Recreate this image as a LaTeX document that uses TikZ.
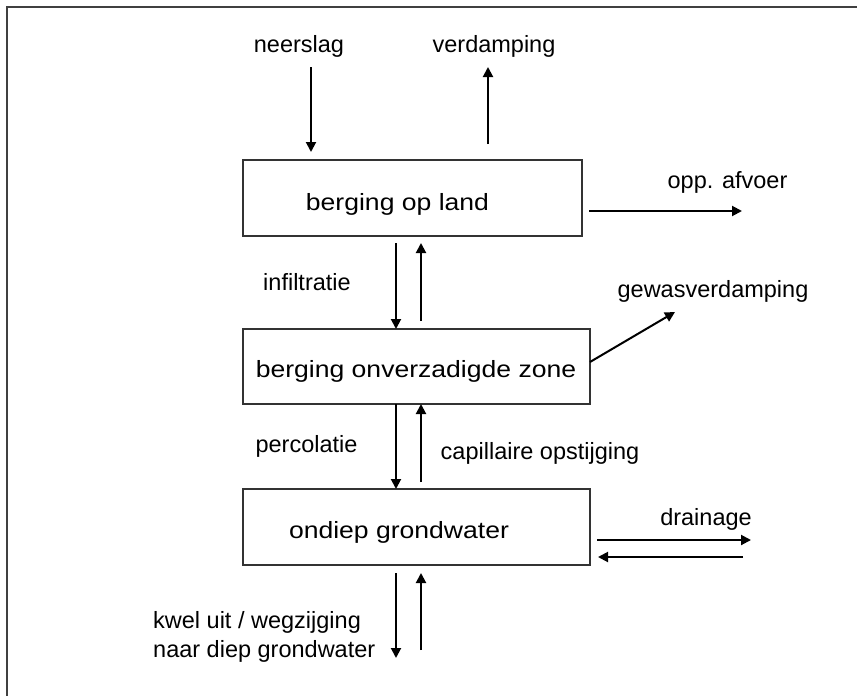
\documentclass[tikz,border=0pt]{standalone}
\usepackage{fontspec}
\setmainfont{Liberation Sans}
\newfontfamily\boxfont[FakeStretch=1.13]{Liberation Sans}
\usetikzlibrary{arrows.meta}

\begin{document}
\begin{tikzpicture}[x=1pt, y=-1pt,
  box/.style={draw=black!80, line width=1.2pt, inner sep=0pt, outer sep=0pt},
  boxtxt/.style={font=\boxfont\fontsize{23.5}{28}\selectfont, anchor=base, inner sep=0pt},
  lbl/.style={font=\fontsize{23.5}{29}\selectfont, anchor=base, inner sep=0pt},
  arr/.style={-{Triangle[length=10pt, width=10pt]}, line width=2pt}
]
\useasboundingbox (0,0) rectangle (857,696);
\draw[line width=1.5pt, black!75] (7,700) -- (7,7) -- (860,7);

\node[box, minimum width=339pt, minimum height=76pt] (land)  at (412.5,198)   {};
\node[box, minimum width=347pt, minimum height=75pt] (zone)  at (416.5,366.5) {};
\node[box, minimum width=347pt, minimum height=76pt] (grond) at (416.5,527)   {};
\node[boxtxt] (landtxt)  at (397.5,210) {berging op land};
\node[boxtxt] (zonetxt)  at (416,377)   {berging onverzadigde zone};
\node[boxtxt] (grondtxt) at (399,538)   {ondiep grondwater};

\node[lbl] (neerslag)    at (299,52)    {neerslag};
\node[lbl] (verdamping)  at (494,52)    {verdamping};
\node[lbl] (afvoer)      at (727.5,188) {opp. afvoer};
\node[lbl] (gewas)       at (713,297)   {gewasverdamping};
\node[lbl] (infiltratie) at (307,290)   {infiltratie};
\node[lbl] (percolatie)  at (306.5,452) {percolatie};
\node[lbl] (capillair)   at (540,459)   {capillaire opstijging};
\node[lbl] (drainage)    at (706,525)   {drainage};
\node[lbl, anchor=base west, align=left] (kwel) at (153,657)
  {kwel uit / wegzijging\\naar diep grondwater};

% vrije uiteinden
\coordinate (ns) at (311,67);
\coordinate (vd) at (488,67);
\coordinate (af) at (742,211);
\coordinate (gw) at (675,312);
\coordinate (cd) at (396,0);
\coordinate (cu) at (421,0);
\coordinate (kd) at (396,658);
\coordinate (ku) at (421,650);
\coordinate (dr1) at (751,540);
\coordinate (dr2) at (743,557);

\draw[arr] (ns) -- ([yshift=8pt]ns |- land.north);
\draw[arr] ([yshift=16pt]vd |- land.north) -- (vd);
\draw[arr] ([xshift=7pt]land.east |- af) -- (af);
\draw[arr] ([yshift=4.5pt]zone.east) -- (gw);
\draw[arr] ([yshift=-7pt]land.south -| cd) -- (zone.north -| cd);
\draw[arr] ([yshift=8pt]zone.north -| cu) -- ([yshift=-7pt]land.south -| cu);
\draw[arr] (zone.south -| cd) -- (grond.north -| cd);
\draw[arr] ([yshift=7pt]grond.north -| cu) -- (zone.south -| cu);
\draw[arr] ([yshift=-8pt]grond.south -| kd) -- (kd);
\draw[arr] (ku) -- ([yshift=-8pt]grond.south -| ku);
\draw[arr] ([xshift=7pt]grond.east |- dr1) -- (dr1);
\draw[arr] (dr2) -- ([xshift=8pt]grond.east |- dr2);
\end{tikzpicture}
\end{document}
